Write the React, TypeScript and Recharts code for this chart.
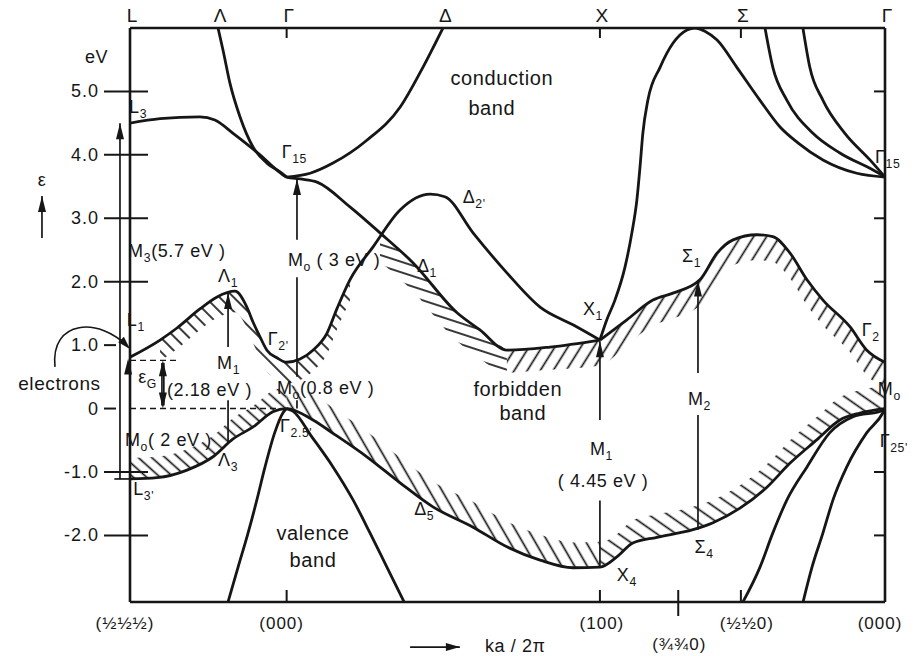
import React from 'react';
import { ComposedChart, Line, Area, XAxis, YAxis, ReferenceLine, ReferenceDot } from 'recharts';

const INK = '#161616';
const FONT = '"Liberation Sans", "DejaVu Sans", sans-serif';

type Pt = { k: number; e: number };
const toPts = (rows: number[][]): Pt[] => rows.map(([k, e]) => ({ k, e }));

// path coordinate: L = -0.5, Γ = 0, X = 1, back to Γ at 1.91; energies in eV
const K_DOMAIN: [number, number] = [-0.5, 1.91];
const E_DOMAIN: [number, number] = [-3.05, 6.0];

const topTicks = [-0.5, -0.219, 0, 0.5, 1, 1.45, 1.91];
const topNames = ['L', 'Λ', 'Γ', 'Δ', 'X', 'Σ', 'Γ'];
const bottomTicks = [-0.5, 0, 1, 1.25, 1.45, 1.91];
const bottomNames = ['(½½½)', '(000)', '(100)', '(¾¾0)', '(½½0)', '(000)'];
const energyTicks = [-2, -1, 0, 1, 2, 3, 4, 5];
const rightTicks = [-2, -1, 2, 3, 5];

// lowest conduction band: L1 - Λ1 - Γ2' - Δ2' - X1
const condLower = toPts([
  [-0.5, 0.81], [-0.404, 1.08], [-0.35, 1.27], [-0.277, 1.57], [-0.222, 1.76],
  [-0.165, 1.85], [-0.127, 1.6], [-0.107, 1.36], [-0.085, 1.13], [-0.063, 0.92],
  [-0.031, 0.8], [0, 0.73], [0.043, 0.78], [0.084, 0.92], [0.129, 1.19],
  [0.161, 1.58], [0.202, 2.03], [0.276, 2.55], [0.362, 3.13], [0.458, 3.38],
  [0.505, 3.34], [0.595, 2.77], [0.703, 2.14], [0.809, 1.6], [0.914, 1.32], [1.0, 1.08],
]);

// L3 - Γ15 - Δ1 - X1
const condDelta1 = toPts([
  [-0.5, 4.5], [-0.404, 4.57], [-0.277, 4.6], [-0.229, 4.55], [-0.171, 4.34],
  [-0.085, 4.0], [-0.031, 3.76], [0, 3.65], [0.043, 3.62], [0.097, 3.57],
  [0.202, 3.18], [0.298, 2.77], [0.403, 2.3], [0.544, 1.51], [0.617, 1.24],
  [0.703, 0.92], [0.841, 0.97], [1.0, 1.08],
]);

const condLambdaUp = toPts([
  [-0.219, 6.0], [-0.203, 5.65], [-0.181, 5.13], [-0.149, 4.6], [-0.107, 4.12],
  [-0.063, 3.87], [-0.021, 3.73], [0, 3.65],
]);

const condDeltaUp = toPts([
  [0, 3.65], [0.075, 3.71], [0.148, 3.87], [0.256, 4.23], [0.362, 4.75], [0.435, 5.38], [0.499, 6.0],
]);

// X1 rising over the top and down to Γ15
const condXUp = toPts([
  [1.0, 1.08], [1.022, 1.4], [1.048, 1.71], [1.08, 2.23], [1.102, 2.77], [1.118, 3.29],
  [1.128, 3.81], [1.137, 4.34], [1.153, 4.86], [1.192, 5.38], [1.233, 5.76], [1.278, 5.97],
  [1.303, 6.0], [1.335, 5.95], [1.374, 5.81], [1.437, 5.38], [1.511, 4.86], [1.575, 4.44],
  [1.632, 4.19], [1.712, 3.92], [1.82, 3.71], [1.91, 3.65],
]);

const condSigmaA = toPts([
  [1.527, 6.0], [1.552, 5.38], [1.597, 4.86], [1.68, 4.34], [1.766, 4.03], [1.872, 3.76], [1.91, 3.65],
]);

const condSigmaB = toPts([
  [1.648, 6.0], [1.67, 5.38], [1.712, 4.86], [1.782, 4.34], [1.862, 3.92], [1.91, 3.65],
]);

// X1 - Σ1 - Γ2
const condSigma1 = toPts([
  [1.0, 1.08], [1.086, 1.4], [1.169, 1.71], [1.233, 1.82], [1.319, 2.03], [1.374, 2.45],
  [1.425, 2.66], [1.501, 2.74], [1.552, 2.71], [1.607, 2.45], [1.661, 2.03], [1.712, 1.71],
  [1.798, 1.29], [1.852, 0.92], [1.91, 0.73],
]);

// top of the valence band: L3' - Λ3 - Γ25' - Δ5 - X4 - Σ4 - Γ25'
const valTop = toPts([
  [-0.5, -1.11], [-0.414, -1.09], [-0.318, -0.97], [-0.235, -0.76], [-0.171, -0.48],
  [-0.107, -0.29], [-0.044, -0.05], [0, 0], [0.084, -0.18], [0.148, -0.39],
  [0.256, -0.76], [0.362, -1.17], [0.467, -1.55], [0.595, -1.87], [0.703, -2.18],
  [0.809, -2.39], [0.914, -2.51], [1.0, -2.5], [1.054, -2.34], [1.105, -2.12],
  [1.182, -2.03], [1.297, -1.91], [1.361, -1.8], [1.447, -1.57], [1.533, -1.24],
  [1.607, -0.86], [1.693, -0.49], [1.766, -0.18], [1.83, -0.07], [1.91, 0],
]);

const valGammaL = toPts([
  [-0.19, -3.1], [-0.155, -2.5], [-0.123, -1.96], [-0.095, -1.44], [-0.069, -0.92],
  [-0.038, -0.38], [-0.012, -0.07], [0, 0],
]);

const valGammaR = toPts([
  [0, 0], [0.02, -0.04], [0.081, -0.45], [0.148, -0.92], [0.212, -1.44],
  [0.266, -1.96], [0.32, -2.5], [0.38, -3.1],
]);

const valSigmaA = toPts([
  [1.451, -3.1], [1.511, -2.5], [1.552, -1.96], [1.597, -1.44], [1.661, -0.92],
  [1.734, -0.38], [1.808, -0.13], [1.903, -0.03], [1.91, 0],
]);

const valSigmaB = toPts([
  [1.646, -3.1], [1.677, -2.5], [1.712, -1.96], [1.744, -1.44], [1.788, -0.92],
  [1.852, -0.38], [1.903, -0.07], [1.91, 0],
]);

// hatched strips along the band edges (into the gap)
const strip = (src: Pt[], from: number, to: number, depth: number) =>
  src
    .filter((p) => p.k >= from && p.k <= to)
    .map((p) => ({ k: p.k, r: depth > 0 ? [p.e, p.e + depth] : [p.e + depth, p.e] }));

const hatchValL = strip(valTop, -0.5, 0, 0.33);
const hatchValM = strip(valTop, 0, 1.0, 0.4);
const hatchValR = strip(valTop, 1.0, 1.91, 0.36);
const hatchCondL = strip(condLower, -0.45, 0.21, -0.33);
const hatchDelta = strip(condDelta1, 0.29, 0.703, -0.45);
const hatchSigma = [
  ...strip(condDelta1, 0.703, 0.99, -0.36),
  ...strip(condSigma1, 1.0, 1.91, -0.4),
];

// vertical transition shafts: [k, e from, e to]
const shafts: [number, number, number][] = [
  [-0.532, -1.11, 4.5],
  [-0.187, -0.54, 0.13], [-0.187, 0.97, 1.82],
  [0.033, 0.0, 0.13], [0.033, 0.5, 2.07], [0.033, 2.66, 3.62],
  [1.0, -2.5, -1.45], [1.0, -0.18, 1.06],
  [1.313, -1.91, -0.1], [1.313, 0.56, 2.02],
  [-0.398, 0.05, 0.72], [-0.392, 0.05, 0.72],
  [-0.781, 2.69, 3.35],
];
const headsUp: [number, number][] = [
  [-0.532, 4.5], [-0.187, 1.82], [0.033, 3.62], [1.0, 1.06], [1.313, 2.02],
  [-0.395, 0.76], [-0.506, 0.79], [-0.781, 3.35],
];
const headsDown: [number, number][] = [[-0.395, 0.0]];

type Note = { k: number; e: number; t: string; sub?: string; tail?: string; size?: number; anchor?: 'start' | 'middle' | 'end' };
const notes: Note[] = [
  { k: -0.503, e: 4.66, t: 'L', sub: '3' },
  { k: -0.016, e: 3.95, t: 'Γ', sub: '15' },
  { k: -0.219, e: 1.99, t: 'Λ', sub: '1' },
  { k: -0.506, e: 2.39, t: 'M', sub: '3', tail: '(5.7 eV )' },
  { k: 0.004, e: 2.24, t: 'M', sub: 'o', tail: ' ( 3 eV )' },
  { k: 0.416, e: 2.15, t: 'Δ', sub: '1' },
  { k: 0.562, e: 3.24, t: 'Δ', sub: "2'" },
  { k: 0.687, e: 5.1, t: 'conduction', anchor: 'middle', size: 20 },
  { k: 0.655, e: 4.63, t: 'band', anchor: 'middle', size: 20 },
  { k: 0.946, e: 1.47, t: 'X', sub: '1' },
  { k: 1.262, e: 2.31, t: 'Σ', sub: '1' },
  { k: 1.878, e: 3.87, t: 'Γ', sub: '15' },
  { k: -0.51, e: 1.3, t: 'L', sub: '1' },
  { k: -0.857, e: 0.29, t: 'electrons', size: 19 },
  { k: -0.474, e: 0.4, t: 'ε', sub: 'G' },
  { k: -0.382, e: 0.2, t: '(2.18 eV )' },
  { k: -0.222, e: 0.62, t: 'M', sub: '1' },
  { k: -0.031, e: 0.23, t: 'M', sub: 'o', tail: '(0.8 eV )' },
  { k: -0.06, e: 1.0, t: 'Γ', sub: "2'" },
  { k: -0.516, e: -0.59, t: 'M', sub: 'o', tail: '( 2 eV )' },
  { k: -0.021, e: -0.37, t: 'Γ', sub: "2.5'" },
  { k: -0.219, e: -0.91, t: 'Λ', sub: '3' },
  { k: -0.49, e: -1.36, t: 'L', sub: "3'" },
  { k: 0.084, e: -2.07, t: 'valence', anchor: 'middle', size: 20 },
  { k: 0.084, e: -2.5, t: 'band', anchor: 'middle', size: 20 },
  { k: 0.407, e: -1.68, t: 'Δ', sub: '5' },
  { k: 0.738, e: 0.2, t: 'forbidden', anchor: 'middle', size: 20 },
  { k: 0.754, e: -0.18, t: 'band', anchor: 'middle', size: 20 },
  { k: 0.968, e: -0.73, t: 'M', sub: '1' },
  { k: 1.01, e: -1.24, t: '( 4.45 eV )', anchor: 'middle' },
  { k: 1.054, e: -2.72, t: 'X', sub: '4' },
  { k: 1.281, e: 0.06, t: 'M', sub: '2' },
  { k: 1.302, e: -2.28, t: 'Σ', sub: '4' },
  { k: 1.836, e: 1.14, t: 'Γ', sub: '2' },
  { k: 1.887, e: 0.21, t: 'M', sub: 'o' },
  { k: 1.893, e: -0.61, t: 'Γ', sub: "25'" },
  { k: -0.781, e: 3.51, t: 'ε', anchor: 'middle' },
  { k: -0.644, e: 5.45, t: 'eV' },
  { k: 0.633, e: -3.84, t: 'ka / 2π' },
];

const headPath = (x: number, y: number, dx: number, dy: number, len = 16, half = 4) => {
  const bx = x - dx * len;
  const by = y - dy * len;
  return `M${x},${y} L${bx - dy * half},${by + dx * half} L${bx + dy * half},${by - dx * half} Z`;
};

const NoteText = ({ cx, cy, n }: any) => {
  const size = n.size || 18;
  return (
    <text x={cx} y={cy} fontSize={size} fontFamily={FONT} fill={INK} textAnchor={n.anchor || 'start'} letterSpacing={0.6}>
      {n.t}
      {n.sub && <tspan dy={5} fontSize={size * 0.68}>{n.sub}</tspan>}
      {n.tail && <tspan dy={-5} fontSize={size}>{n.tail}</tspan>}
    </text>
  );
};

const LeftTick = ({ x, y, payload }: any) => {
  const v = payload.value;
  const label = v === 0 ? '0' : v.toFixed(1);
  const inward = v === 0 || v === 1 ? -14 : 18;
  return (
    <g>
      <line x1={x - 26} x2={x + inward} y1={y} y2={y} stroke={INK} strokeWidth={2} />
      <text x={x - 31} y={y + 6} fontSize={18} fontFamily={FONT} fill={INK} textAnchor="end" letterSpacing={1}>{label}</text>
    </g>
  );
};

const RightTick = ({ x, y }: any) => <line x1={x - 11} x2={x} y1={y} y2={y} stroke={INK} strokeWidth={2} />;

const TopTick = ({ x, y, payload }: any) => {
  const i = topTicks.indexOf(payload.value);
  const marked = payload.value === 0 || payload.value === 1 || payload.value === 1.45;
  return (
    <g>
      {marked && <line x1={x} x2={x} y1={y} y2={y + 10} stroke={INK} strokeWidth={2} />}
      <text x={x + 2} y={y - 6} fontSize={19} fontFamily={FONT} fill={INK} textAnchor="middle">{topNames[i]}</text>
    </g>
  );
};

const BottomTick = ({ x, y, payload }: any) => {
  const v = payload.value;
  const i = bottomTicks.indexOf(v);
  const low = v === 1.25;
  const dx = [-5, -5, 2, 1, 6, -5][i];
  return (
    <g>
      {(v === 0 || v === 1 || v === 1.45) && <line x1={x} x2={x} y1={y - 12} y2={y} stroke={INK} strokeWidth={2} />}
      {low && <line x1={x} x2={x} y1={y - 12} y2={y + 14} stroke={INK} strokeWidth={2} />}
      <text x={x + dx} y={y + (low ? 48 : 27)} fontSize={17} fontFamily={FONT} fill={INK} textAnchor="middle" letterSpacing={1}>{bottomNames[i]}</text>
    </g>
  );
};

const axisLine = { stroke: INK, strokeWidth: 2.6 };

const Hatch = ({ id, angle, gap = 10 }: { id: string; angle: number; gap?: number }) => (
  <pattern id={id} patternUnits="userSpaceOnUse" width={gap} height={gap} patternTransform={`rotate(${angle})`}>
    <line x1={gap / 2} y1={-1} x2={gap / 2} y2={gap + 1} stroke={INK} strokeWidth={1.7} />
  </pattern>
);

const bandLines = [condLower, condDelta1, condLambdaUp, condDeltaUp, condXUp, condSigmaA, condSigmaB, condSigma1, valTop, valGammaL, valGammaR, valSigmaA, valSigmaB];
const hatches: [any[], string][] = [
  [hatchValL, 'hvL'], [hatchValM, 'hvM'], [hatchValR, 'hvR'],
  [hatchCondL, 'hcL'], [hatchDelta, 'hcD'], [hatchSigma, 'hcS'],
];

export default function App() {
  return (
    <div style={{ position: 'absolute', left: 0, top: 0, width: 919, height: 656, background: '#fff' }}>
      <ComposedChart width={919} height={656} margin={{ top: 27, right: 33, bottom: 53, left: 129 }}>
        <defs>
          <Hatch id="hvL" angle={-48} gap={9} />
          <Hatch id="hvM" angle={-30} gap={11} />
          <Hatch id="hvR" angle={-55} gap={11} />
          <Hatch id="hcL" angle={-45} gap={10} />
          <Hatch id="hcD" angle={-72} gap={10} />
          <Hatch id="hcS" angle={32} gap={11} />
        </defs>
        <XAxis xAxisId={0} dataKey="k" type="number" domain={K_DOMAIN} allowDataOverflow ticks={bottomTicks} interval={0}
          height={1} tickSize={0} tickMargin={0} tickLine={false} axisLine={axisLine} tick={<BottomTick />} />
        <XAxis xAxisId="top" orientation="top" dataKey="k" type="number" domain={K_DOMAIN} allowDataOverflow ticks={topTicks} interval={0}
          height={1} tickSize={0} tickMargin={0} tickLine={false} axisLine={axisLine} tick={<TopTick />} />
        <YAxis yAxisId={0} type="number" domain={E_DOMAIN} allowDataOverflow ticks={energyTicks} interval={0}
          width={1} tickSize={0} tickMargin={0} tickLine={false} axisLine={axisLine} tick={<LeftTick />} />
        <YAxis yAxisId="right" orientation="right" type="number" domain={E_DOMAIN} allowDataOverflow ticks={rightTicks} interval={0}
          width={1} tickSize={0} tickMargin={0} tickLine={false} axisLine={axisLine} tick={<RightTick />} />

        {hatches.map(([d, id]) => (
          <Area key={id} data={d} dataKey="r" type="monotone" stroke="none" fill={`url(#${id})`} fillOpacity={1}
            dot={false} activeDot={false} isAnimationActive={false} />
        ))}

        {bandLines.map((d, i) => (
          <Line key={i} data={d} dataKey="e" type="monotone" stroke={INK} strokeWidth={2.8} dot={false}
            activeDot={false} isAnimationActive={false} />
        ))}

        {shafts.map(([k, a, b], i) => (
          <ReferenceLine key={`s${i}`} segment={[{ x: k, y: a }, { x: k, y: b }]} stroke={INK} strokeWidth={1.7} ifOverflow="visible" />
        ))}
        <ReferenceLine segment={[{ x: -0.55, y: -1.11 }, { x: -0.5, y: -1.11 }]} stroke={INK} strokeWidth={1.7} ifOverflow="visible" />
        <ReferenceLine segment={[{ x: -0.5, y: 0.76 }, { x: -0.35, y: 0.76 }]} stroke={INK} strokeWidth={1.4} strokeDasharray="6 4" ifOverflow="visible" />
        <ReferenceLine segment={[{ x: -0.5, y: 0 }, { x: -0.02, y: 0 }]} stroke={INK} strokeWidth={1.4} strokeDasharray="6 4" ifOverflow="visible" />
        <ReferenceLine segment={[{ x: 0.394, y: -3.76 }, { x: 0.553, y: -3.76 }]} stroke={INK} strokeWidth={1.7} ifOverflow="visible" />

        {headsUp.map(([k, e], i) => (
          <ReferenceDot key={`u${i}`} x={k} y={e} r={0} ifOverflow="visible"
            shape={(p: any) => <path d={headPath(p.cx, p.cy, 0, -1)} fill={INK} />} />
        ))}
        {headsDown.map(([k, e], i) => (
          <ReferenceDot key={`d${i}`} x={k} y={e} r={0} ifOverflow="visible"
            shape={(p: any) => <path d={headPath(p.cx, p.cy, 0, 1)} fill={INK} />} />
        ))}
        <ReferenceDot x={0.553} y={-3.76} r={0} ifOverflow="visible"
          shape={(p: any) => <path d={headPath(p.cx, p.cy, 1, 0, 14, 4)} fill={INK} />} />

        {/* curved pointer from the "electrons" label to L1 */}
        <ReferenceDot x={-0.5} y={0.94} r={0} ifOverflow="visible"
          shape={(p: any) => (
            <g>
              <path d={`M${p.cx - 75},${p.cy + 18} C${p.cx - 80},${p.cy - 30} ${p.cx - 30},${p.cy - 32} ${p.cx - 2},${p.cy - 2}`}
                fill="none" stroke={INK} strokeWidth={1.6} />
              <path d={headPath(p.cx, p.cy, 0.69, 0.72, 13, 4)} fill={INK} />
            </g>
          )} />

        {notes.map((n, i) => (
          <ReferenceDot key={`n${i}`} x={n.k} y={n.e} r={0} ifOverflow="visible" shape={(p: any) => <NoteText cx={p.cx} cy={p.cy} n={n} />} />
        ))}
      </ComposedChart>
    </div>
  );
}
